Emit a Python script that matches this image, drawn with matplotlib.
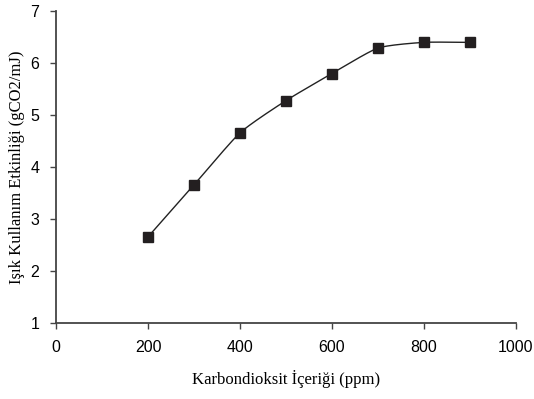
import numpy as np
import matplotlib
matplotlib.use("Agg")
import matplotlib.pyplot as plt

# data
co2 = [200, 300, 400, 500, 600, 700, 800, 900]
efficiency = [2.66, 3.66, 4.66, 5.28, 5.80, 6.29, 6.40, 6.40]


def smooth(x, y, n=30, tension=0.3):
    # Catmull-Rom style curve through the points (like Excel's smoothed line)
    x = np.asarray(x, float)
    y = np.asarray(y, float)
    px = np.concatenate([[2 * x[0] - x[1]], x, [2 * x[-1] - x[-2]]])
    py = np.concatenate([[2 * y[0] - y[1]], y, [2 * y[-1] - y[-2]]])
    xs, ys = [], []
    for i in range(1, len(px) - 2):
        t = np.linspace(0, 1, n)
        m0x = tension * (px[i + 1] - px[i - 1])
        m1x = tension * (px[i + 2] - px[i])
        m0y = tension * (py[i + 1] - py[i - 1])
        m1y = tension * (py[i + 2] - py[i])
        h00 = 2 * t**3 - 3 * t**2 + 1
        h10 = t**3 - 2 * t**2 + t
        h01 = -2 * t**3 + 3 * t**2
        h11 = t**3 - t**2
        xs.append(h00 * px[i] + h10 * m0x + h01 * px[i + 1] + h11 * m1x)
        ys.append(h00 * py[i] + h10 * m0y + h01 * py[i + 1] + h11 * m1y)
    return np.concatenate(xs), np.concatenate(ys)


fig = plt.figure(figsize=(5.34, 3.99), dpi=100)
ax = fig.add_axes([0.105, 0.19, 0.861, 0.782])

sx, sy = smooth(co2, efficiency)
ax.plot(sx, sy, color="#222222", lw=1.0, zorder=2)
ax.plot(co2, efficiency, ls="none", marker="s", ms=7, color="#231f20", zorder=3)

ax.set_xlim(0, 1000)
ax.set_ylim(1, 7)
ax.set_xticks([0, 200, 400, 600, 800, 1000])
ax.set_yticks([1, 2, 3, 4, 5, 6, 7])

for s in ["top", "right"]:
    ax.spines[s].set_visible(False)
for s in ["left", "bottom"]:
    ax.spines[s].set_color("#444444")
    ax.spines[s].set_linewidth(1.3)

ax.tick_params(direction="out", length=4, width=1, color="#444444", pad=8,
               labelsize=11.5)
for lab in ax.get_xticklabels() + ax.get_yticklabels():
    lab.set_fontfamily("Liberation Sans")

ax.set_xlabel("Karbondioksit İçeriği (ppm)", fontfamily="Liberation Serif",
              fontsize=12, labelpad=11)
ax.set_ylabel("Işık Kullanım Etkinliği (gCO2/mJ)", fontfamily="Liberation Serif",
              fontsize=12, labelpad=4)

fig.savefig("out.png", dpi=100)
